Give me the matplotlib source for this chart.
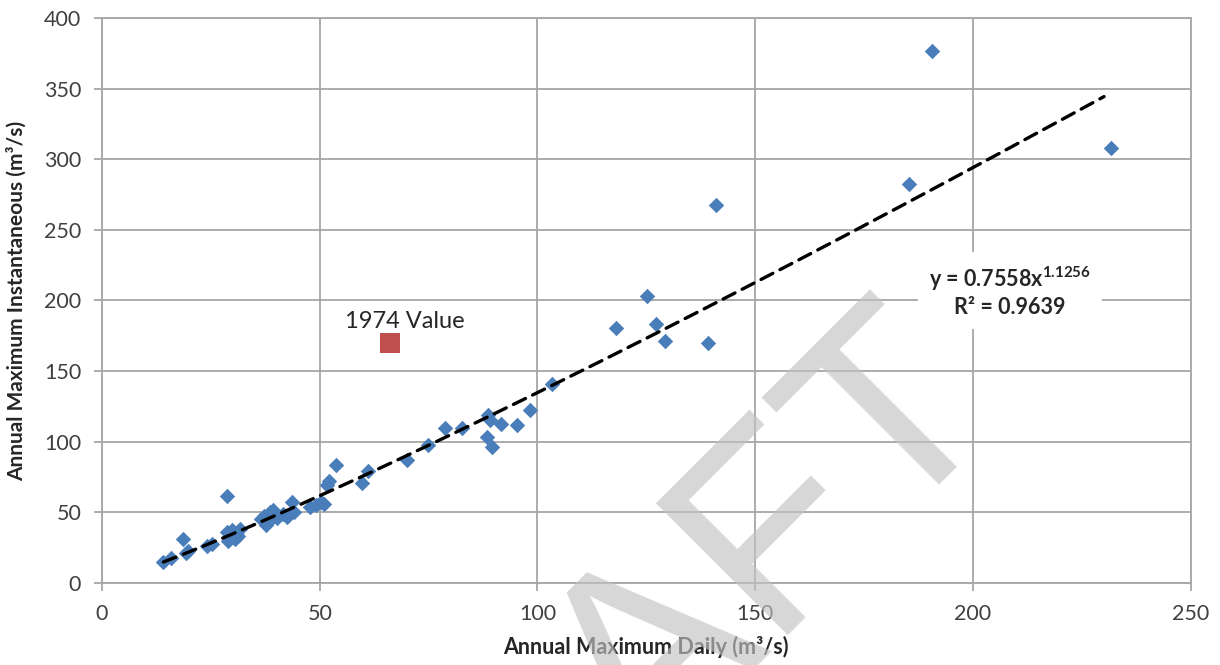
import matplotlib
matplotlib.use("Agg")
import matplotlib.pyplot as plt
import numpy as np

# annual maximum daily flow vs annual maximum instantaneous flow (m3/s)
daily = [14.1, 15.8, 18.5, 19.3, 19.8, 24.2, 25.3, 28.7, 28.8, 29.0,
         29.8, 30.5, 31.3, 31.8, 36.4, 37.3, 37.6, 38.2, 38.6, 39.3,
         40.2, 41.5, 42.5, 43.7, 44.2, 47.8, 49.2, 50.4, 51.0, 51.6,
         52.2, 53.8, 59.6, 61.1, 70.0, 74.9, 78.7, 82.7, 88.3, 88.7,
         89.2, 89.6, 91.7, 95.3, 98.2, 103.4, 118.0, 125.2, 127.1, 129.2,
         139.2, 140.9, 185.3, 190.5, 231.6]
inst = [14.8, 17.5, 31.5, 21.0, 22.5, 26.0, 27.5, 61.9, 36.0, 29.5,
        37.5, 31.0, 33.0, 38.5, 45.0, 47.5, 41.0, 43.5, 50.0, 51.5,
        46.0, 48.5, 46.5, 57.5, 50.0, 53.5, 55.0, 57.0, 56.0, 69.5,
        72.5, 83.2, 70.8, 79.5, 87.0, 97.7, 109.8, 109.8, 103.3, 119.0,
        115.5, 96.5, 112.3, 111.8, 122.4, 140.8, 180.8, 203.3, 183.6, 171.3,
        169.9, 267.8, 282.8, 376.8, 307.6]

daily_1974 = [66.1]
inst_1974 = [169.8]

fit_a = 0.7558
fit_b = 1.1256
fit_r2 = 0.9639

x_ticks = [0, 50, 100, 150, 200, 250]
y_ticks = [0, 50, 100, 150, 200, 250, 300, 350, 400]

plt.rcParams["font.family"] = ["Lato", "DejaVu Sans"]
plt.rcParams["mathtext.fontset"] = "custom"
plt.rcParams["mathtext.rm"] = "Lato"
plt.rcParams["mathtext.bf"] = "Lato:bold"
plt.rcParams["mathtext.default"] = "bf"

grid_col = "#a6a6a6"
text_col = "#404040"

fig = plt.figure(figsize=(12.2, 6.65), dpi=100)
ax = fig.add_axes([0.0836, 0.1233, 0.8924, 0.8497])

ax.scatter(daily, inst, marker="D", s=62, color="#4a7ebb", linewidths=0, zorder=3)
ax.scatter(daily_1974, inst_1974, marker="s", s=200, color="#c0504d", linewidths=0, zorder=3)

xs = np.linspace(min(daily), max(daily) - 1.5, 300)
ax.plot(xs, fit_a * xs ** fit_b, color="black", lw=2.4, dashes=(4.0, 2.4),
        dash_capstyle="round", zorder=4)

ax.text(daily_1974[0] + 3.4, 180.5, "1974 Value", ha="center", va="baseline",
        fontsize=17, color="#262626")

eq = "y = %.4fx$^{%.4f}$\nR\u00b2 = %.4f" % (fit_a, fit_b, fit_r2)
ax.text(208.5, 206.5, eq, ha="center", va="center",
        fontsize=15.5, fontweight="bold", color="#262626", linespacing=1.2, zorder=5,
        bbox=dict(facecolor="white", edgecolor="none", pad=8))

ax.set_xlim(0, 250)
ax.set_ylim(0, 400)
ax.set_xticks(x_ticks)
ax.set_yticks(y_ticks)
ax.grid(True, color=grid_col, lw=1.3)
ax.set_axisbelow(True)
for s in ax.spines.values():
    s.set_color(grid_col)
    s.set_linewidth(1.3)
ax.tick_params(colors=grid_col, labelcolor=text_col, labelsize=15.5, length=6, width=1.3, pad=9)

ax.set_xlabel("Annual Maximum Daily (m\u00b3/s)", fontsize=15.5, fontweight="bold",
              color="#262626", labelpad=9)
ax.set_ylabel("Annual Maximum Instantaneous (m\u00b3/s)", fontsize=15, fontweight="bold",
              color="#262626", labelpad=12)

# watermark, runs off the bottom edge like in the source
fig.text(0.821, 0.398, "DRAFT", rotation=45, rotation_mode="anchor", ha="right",
         va="baseline", fontsize=195, color="#c2c2c2", alpha=0.66,
         family="Liberation Sans", zorder=10)

fig.savefig("out.png", dpi=100)
